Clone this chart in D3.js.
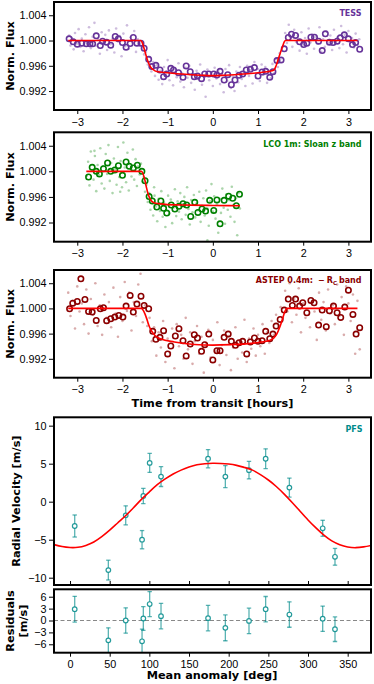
<!DOCTYPE html>
<html>
<head>
<meta charset="utf-8">
<script src="https://cdn.jsdelivr.net/npm/d3@7"></script>
<style>
  body { margin: 0; background: #fff; }
  svg { display: block; font-family: "DejaVu Sans", sans-serif; }
  .tick text { font-size: 10.8px; fill: #000; }
  .tick line { stroke: #000; stroke-width: 1; }
  .lab { font-size: 11.3px; font-weight: bold; }
  .tag { font-size: 8px; font-weight: bold; }
</style>
</head>
<body>
<div id="chart"></div>
<script>
// ---- data ----

// light curve ticks
var timeTicks = [-3, -2, -1, 0, 1, 2, 3];
var fluxTicks = [0.992, 0.996, 1.000, 1.004];

// TESS binned points
var tessBinT = [-3.18, -3.09, -3.00, -2.90, -2.80, -2.72, -2.66, -2.58, -2.49, -2.44, -2.35, -2.26, -2.16, -2.09, -2.00, -1.92, -1.83, -1.76, -1.68, -1.59, -1.52, -1.42, -1.35, -1.26, -1.17, -1.09, -1.02, -0.93, -0.87, -0.76, -0.66, -0.59, -0.50, -0.41, -0.34, -0.25, -0.18, -0.09, 0.02, 0.09, 0.16, 0.25, 0.33, 0.41, 0.49, 0.58, 0.66, 0.74, 0.83, 0.92, 1.00, 1.09, 1.17, 1.26, 1.33, 1.42, 1.51, 1.58, 1.67, 1.74, 1.83, 1.92, 2.01, 2.08, 2.17, 2.25, 2.34, 2.42, 2.49, 2.58, 2.66, 2.75, 2.82, 2.91, 3.00, 3.09, 3.16, 3.25];
var tessBinF = [1.00027, 0.99979, 0.99942, 0.99958, 0.99947, 0.99947, 0.99947, 1.00074, 0.99920, 0.99989, 0.99974, 0.99926, 1.00064, 1.00027, 0.99968, 0.99894, 0.99952, 1.00048, 0.99958, 0.99958, 0.99878, 0.99703, 0.99587, 0.99608, 0.99534, 0.99428, 0.99470, 0.99560, 0.99534, 0.99491, 0.99417, 0.99597, 0.99507, 0.99428, 0.99438, 0.99396, 0.99470, 0.99470, 0.99470, 0.99454, 0.99512, 0.99375, 0.99459, 0.99300, 0.99375, 0.99449, 0.99470, 0.99534, 0.99544, 0.99571, 0.99438, 0.99502, 0.99512, 0.99417, 0.99507, 0.99682, 0.99693, 0.99868, 1.00048, 1.00101, 1.00080, 0.99979, 0.99936, 0.99958, 1.00053, 1.00053, 0.99989, 0.99841, 1.00106, 0.99974, 0.99968, 0.99989, 1.00042, 1.00090, 1.00027, 0.99936, 0.99968, 0.99862];
// TESS unbinned points [time, flux]
var tessRaw = [
  [-3.18,1.0008],[-3.15,0.9992],[-3.12,1.0004],[-3.08,0.9986],[-3.05,1.0012],[-3.01,0.9995],[-2.97,1.0018],[-2.93,0.9990],[-2.90,1.0003],[-2.86,0.9983],
  [-2.82,1.0010],[-2.78,0.9996],[-2.74,1.0021],[-2.70,0.9988],[-2.66,1.0006],[-2.62,1.0028],[-2.58,0.9992],[-2.54,1.0001],[-2.50,0.9979],[-2.46,1.0013],
  [-2.42,0.9997],[-2.38,1.0009],[-2.34,0.9985],[-2.30,1.0016],[-2.26,0.9994],[-2.22,1.0003],[-2.18,0.9981],[-2.14,1.0019],[-2.10,0.9999],[-2.06,1.0007],
  [-2.02,0.9975],[-1.98,1.0011],[-1.94,0.9991],[-1.90,1.0024],[-1.86,0.9987],[-1.82,1.0005],[-1.78,0.9996],[-1.74,1.0015],[-1.70,0.9982],[-1.66,1.0002],
  [-1.62,0.9993],[-1.56,0.9989],[-1.52,0.9978],[-1.48,0.9982],[-1.44,0.9962],[-1.40,0.9974],[-1.36,0.9951],[-1.32,0.9966],[-1.28,0.9944],[-1.24,0.9961],
  [-1.20,0.9938],[-1.16,0.9952],[-1.12,0.9931],[-1.08,0.9958],[-1.04,0.9946],[-1.00,0.9969],[-0.96,0.9937],[-0.92,0.9950],[-0.88,0.9929],[-0.84,0.9955],
  [-0.80,0.9942],[-0.76,0.9964],[-0.72,0.9935],[-0.68,0.9948],[-0.64,0.9926],[-0.60,0.9957],[-0.56,0.9941],[-0.52,0.9960],[-0.48,0.9933],[-0.44,0.9946],
  [-0.40,0.9922],[-0.36,0.9952],[-0.32,0.9939],[-0.28,0.9962],[-0.24,0.9930],[-0.20,0.9945],[-0.16,0.9911],[-0.12,0.9954],[-0.08,0.9937],[-0.04,0.9949],
  [0.00,0.9928],[0.04,0.9957],[0.08,0.9940],[0.12,0.9952],[0.16,0.9931],[0.20,0.9947],[0.24,0.9918],[0.28,0.9955],[0.32,0.9936],[0.36,0.9961],
  [0.40,0.9925],[0.44,0.9943],[0.48,0.9920],[0.52,0.9951],[0.56,0.9934],[0.60,0.9958],[0.64,0.9939],[0.68,0.9949],[0.72,0.9928],[0.76,0.9960],
  [0.80,0.9944],[0.84,0.9953],[0.88,0.9932],[0.92,0.9966],[0.96,0.9941],[1.00,0.9955],[1.04,0.9936],[1.08,0.9962],[1.12,0.9946],[1.16,0.9958],
  [1.20,0.9933],[1.24,0.9952],[1.28,0.9940],[1.32,0.9963],[1.36,0.9948],[1.40,0.9971],[1.44,0.9958],[1.48,0.9980],[1.52,0.9972],[1.56,0.9991],
  [1.60,1.0012],[1.64,0.9996],[1.68,1.0025],[1.72,1.0004],[1.76,0.9990],[1.80,1.0017],[1.84,0.9998],[1.88,1.0008],[1.92,0.9984],[1.96,1.0013],
  [2.00,0.9993],[2.04,1.0004],[2.08,0.9979],[2.12,1.0019],[2.16,0.9997],[2.20,1.0010],[2.24,0.9987],[2.28,1.0006],[2.32,0.9995],[2.36,1.0021],
  [2.40,0.9982],[2.44,1.0002],[2.48,0.9990],[2.52,1.0014],[2.56,0.9996],[2.60,1.0008],[2.64,0.9985],[2.68,1.0017],[2.72,0.9999],[2.76,1.0005],
  [2.80,0.9988],[2.84,1.0023],[2.88,0.9994],[2.92,1.0009],[2.96,0.9981],[3.00,1.0015],[3.04,0.9997],[3.08,1.0004],[3.12,0.9989],[3.16,1.0011],
  [3.20,0.9993],[3.24,1.0002]
];
var tessModelT = [-3.2, -1.6, -1.57, -1.54, -1.5, -1.46, -1.42, -1.38, -1.34, -1.28, -1.2, -1.0, -0.6, -0.2, 0, 0.2, 0.6, 1.0, 1.2, 1.3, 1.36, 1.4, 1.45, 1.5, 1.55, 1.58, 1.61, 3.2];
var tessModelF = [1, 1, 0.9998, 0.9992, 0.9982, 0.9972, 0.9964, 0.9958, 0.9955, 0.9952, 0.99505, 0.9949, 0.99465, 0.99448, 0.99445, 0.99448, 0.99465, 0.9949, 0.99505, 0.9952, 0.9954, 0.996, 0.9971, 0.9982, 0.9992, 0.9998, 1, 1];

// LCO binned points
var lcoBinT = [-2.75, -2.67, -2.58, -2.51, -2.42, -2.33, -2.26, -2.17, -2.09, -2.00, -1.92, -1.85, -1.76, -1.67, -1.57, -1.50, -1.41, -1.34, -1.24, -1.15, -1.09, -1.02, -0.92, -0.84, -0.75, -0.66, -0.58, -0.49, -0.40, -0.33, -0.24, -0.16, -0.07, 0.02, 0.09, 0.16, 0.25, 0.35, 0.44, 0.52, 0.59];
var lcoBinF = [0.99911, 1.00063, 1.00000, 0.99958, 1.00042, 1.00132, 1.00000, 1.00021, 1.00089, 0.99937, 1.00147, 1.00079, 1.00053, 1.00095, 1.00000, 0.99853, 0.99605, 0.99537, 0.99442, 0.99537, 0.99421, 0.99347, 0.99474, 0.99411, 0.99453, 0.99495, 0.99474, 0.99295, 0.99516, 0.99358, 0.99411, 0.99379, 0.99547, 0.99389, 0.99553, 0.99179, 0.99547, 0.99611, 0.99579, 0.99463, 0.99642];
var lcoRaw = [
  [-2.79,0.9993],[-2.76,1.0015],[-2.73,0.9978],[-2.70,1.0031],[-2.67,1.0002],[-2.64,0.9987],[-2.61,1.0024],[-2.58,0.9969],[-2.55,1.0010],[-2.52,0.9994],
  [-2.49,1.0036],[-2.46,0.9981],[-2.43,1.0008],[-2.40,0.9973],[-2.37,1.0027],[-2.34,0.9996],[-2.31,1.0041],[-2.28,0.9985],[-2.25,1.0013],[-2.22,0.9966],
  [-2.19,1.0020],[-2.16,1.0003],[-2.13,0.9979],[-2.10,1.0038],[-2.07,0.9991],[-2.04,1.0016],[-2.01,0.9975],[-1.98,1.0045],[-1.95,1.0006],[-1.92,0.9983],
  [-1.89,1.0029],[-1.86,0.9970],[-1.83,1.0011],[-1.80,0.9992],[-1.77,1.0034],[-1.74,0.9987],[-1.71,1.0019],[-1.68,0.9977],[-1.65,1.0008],[-1.62,0.9995],
  [-1.59,1.0012],[-1.56,0.9984],[-1.53,0.9991],[-1.50,0.9968],[-1.47,0.9979],[-1.44,0.9952],[-1.41,0.9966],[-1.38,0.9940],[-1.35,0.9958],[-1.32,0.9931],
  [-1.29,0.9962],[-1.26,0.9945],[-1.23,0.9922],[-1.20,0.9957],[-1.17,0.9938],[-1.14,0.9969],[-1.11,0.9929],[-1.08,0.9951],[-1.05,0.9913],[-1.02,0.9947],
  [-0.99,0.9962],[-0.96,0.9934],[-0.93,0.9956],[-0.90,0.9919],[-0.87,0.9943],[-0.84,0.9972],[-0.81,0.9930],[-0.78,0.9953],[-0.75,0.9937],[-0.72,0.9966],
  [-0.69,0.9925],[-0.66,0.9949],[-0.63,0.9960],[-0.60,0.9932],[-0.57,0.9975],[-0.54,0.9941],[-0.51,0.9917],[-0.48,0.9955],[-0.45,0.9936],[-0.42,0.9963],
  [-0.39,0.9928],[-0.36,0.9950],[-0.33,0.9939],[-0.30,0.9968],[-0.27,0.9921],[-0.24,0.9946],[-0.21,0.9958],[-0.18,0.9931],[-0.15,0.9970],[-0.12,0.9942],
  [-0.09,0.9915],[-0.06,0.9953],[-0.03,0.9980],[0.00,0.9937],[0.03,0.9961],[0.06,0.9926],[0.09,0.9948],[0.12,0.9904],[0.15,0.9957],[0.18,0.9935],
  [0.21,0.9973],[0.24,0.9943],[0.27,0.9918],[0.30,0.9964],[0.33,0.9940],[0.36,0.9955],[0.39,0.9929],[0.42,0.9976],[0.45,0.9947],[0.48,0.9921],
  [0.51,0.9958],[0.54,0.9900],[0.57,0.9966],[0.60,0.9942],[-0.12,0.9892],[-2.05,0.9968],[-2.62,1.0032],[-1.30,0.9975]
];
var lcoModelT = [-2.8, -1.58, -1.55, -1.51, -1.47, -1.43, -1.39, -1.35, -1.3, -1.2, -1.0, -0.5, 0, 0.6];
var lcoModelF = [1, 1, 0.9997, 0.9988, 0.9975, 0.9964, 0.9957, 0.9953, 0.9951, 0.99495, 0.9948, 0.99472, 0.99466, 0.99463];

// ASTEP binned points
var astepBinT = [-3.17, -3.10, -3.00, -2.92, -2.83, -2.75, -2.67, -2.58, -2.49, -2.42, -2.35, -2.26, -2.17, -2.08, -1.99, -1.92, -1.83, -1.76, -1.68, -1.59, -1.52, -1.42, -1.33, -1.26, -1.17, -1.09, -1.00, -0.93, -0.83, -0.75, -0.66, -0.59, -0.50, -0.41, -0.34, -0.25, -0.18, -0.09, 0.00, 0.09, 0.16, 0.25, 0.34, 0.41, 0.50, 0.58, 0.66, 0.75, 0.83, 0.92, 1.00, 1.09, 1.17, 1.26, 1.33, 1.40, 1.49, 1.58, 1.67, 1.76, 1.83, 1.92, 1.99, 2.08, 2.17, 2.24, 2.34, 2.42, 2.51, 2.58, 2.67, 2.75, 2.83, 2.92, 3.00, 3.10, 3.17, 3.25];
var astepBinF = [0.99995, 1.00084, 1.00111, 1.00470, 1.00143, 0.99952, 0.99942, 0.99810, 0.99995, 1.00011, 0.99805, 0.99836, 0.99863, 0.99889, 0.99863, 1.00037, 1.00206, 0.99942, 1.00069, 1.00195, 1.00048, 0.99995, 0.99636, 0.99509, 0.99541, 0.99646, 0.99277, 0.99403, 0.99562, 0.99678, 0.99488, 0.99245, 0.99435, 0.99583, 0.99530, 0.99319, 0.99424, 0.99593, 0.99182, 0.99329, 0.99329, 0.99541, 0.99593, 0.99477, 0.99414, 0.99456, 0.99477, 0.99277, 0.99467, 0.99530, 0.99477, 0.99488, 0.99636, 0.99520, 0.99593, 0.99720, 0.99826, 0.99974, 1.00148, 1.00048, 1.00148, 1.00037, 1.00090, 0.99931, 1.00127, 1.00090, 0.99736, 0.99974, 0.99710, 0.99963, 1.00037, 0.99931, 0.99857, 1.00021, 1.00290, 0.99905, 0.99593, 0.99694];
var astepRaw = [
  [-3.20,1.0025],[-3.15,0.9988],[-3.10,1.0012],[-3.05,0.9968],[-3.00,1.0035],[-2.95,0.9995],[-2.90,1.0008],[-2.85,0.9975],[-2.80,1.0030],[-2.75,0.9960],
  [-2.70,1.0015],[-2.65,0.9990],[-2.60,1.0040],[-2.55,0.9972],[-2.50,1.0005],[-2.45,0.9958],[-2.40,1.0022],[-2.35,0.9985],[-2.30,1.0010],[-2.25,0.9970],
  [-2.20,1.0033],[-2.15,0.9992],[-2.10,0.9955],[-2.05,1.0018],[-2.00,0.9980],[-1.95,1.0042],[-1.90,0.9996],[-1.85,1.0025],[-1.80,0.9965],[-1.75,1.0010],
  [-1.70,0.9988],[-1.65,1.0038],[-1.60,1.0055],[-1.55,0.9978],[-1.50,1.0005],[-1.45,0.9972],[-1.40,0.9985],[-1.35,0.9948],[-1.30,0.9970],[-1.25,0.9925],
  [-1.20,0.9962],[-1.15,0.9938],[-1.10,0.9980],[-1.05,0.9915],[-1.00,0.9952],[-0.95,0.9930],[-0.90,0.9968],[-0.85,0.9905],[-0.80,0.9975],[-0.75,0.9940],
  [-0.70,0.9958],[-0.65,0.9920],[-0.60,0.9985],[-0.55,0.9935],[-0.50,0.9962],[-0.45,0.9912],[-0.40,0.9948],[-0.35,0.9972],[-0.30,0.9928],[-0.25,0.9955],
  [-0.20,0.9898],[-0.15,0.9945],[-0.10,0.9966],[-0.05,0.9922],[0.00,0.9950],[0.05,0.9932],[0.10,0.9978],[0.15,0.9910],[0.20,0.9942],[0.25,0.9965],
  [0.30,0.9926],[0.35,0.9956],[0.40,0.9902],[0.45,0.9938],[0.50,0.9970],[0.55,0.9920],[0.60,0.9948],[0.65,0.9930],[0.70,0.9982],[0.75,0.9915],
  [0.80,0.9952],[0.85,0.9936],[0.90,0.9968],[0.95,0.9925],[1.00,0.9958],[1.05,0.9940],[1.10,0.9975],[1.15,0.9928],[1.20,0.9962],[1.25,0.9945],
  [1.30,0.9980],[1.35,0.9958],[1.40,0.9990],[1.45,0.9972],[1.50,1.0002],[1.55,0.9985],[1.60,1.0028],[1.65,0.9995],[1.70,1.0040],[1.75,0.9978],
  [1.80,1.0015],[1.85,0.9990],[1.90,1.0032],[1.95,0.9962],[2.00,1.0008],[2.05,0.9985],[2.10,1.0045],[2.15,0.9970],[2.20,1.0012],[2.25,0.9995],
  [2.30,0.9950],[2.35,1.0025],[2.40,0.9982],[2.45,1.0010],[2.50,0.9965],[2.55,1.0030],[2.60,0.9992],[2.65,1.0005],[2.70,0.9975],[2.75,1.0038],
  [2.80,0.9988],[2.85,1.0018],[2.90,0.9958],[2.95,1.0035],[3.00,1.0008],[3.05,0.9980],[3.10,1.0022],[3.15,0.9928],[3.20,1.0012],[3.25,0.9935]
];
var astepModelT = [-3.2, -1.58, -1.54, -1.5, -1.46, -1.42, -1.38, -1.32, -1.25, -1.15, -0.85, -0.4, 0, 0.4, 0.85, 1.15, 1.25, 1.35, 1.42, 1.48, 1.54, 1.6, 1.64, 3.2];
var astepModelF = [1, 1, 0.9997, 0.9991, 0.9983, 0.9974, 0.9967, 0.99605, 0.9955, 0.99515, 0.99468, 0.99428, 0.99418, 0.99425, 0.99445, 0.99475, 0.9949, 0.9953, 0.996, 0.997, 0.9983, 0.9996, 1, 1];

// PFS radial velocities
var rvPhase = [5.9, 48.3, 70.2, 90.8, 92.4, 100.4, 114.7, 174.0, 195.8, 225.6, 246.6, 276.5, 318.5, 334.0];
var rvValue = [-3.2, -9.0, -1.8, -5.0, 0.75, 5.1, 3.3, 5.65, 3.3, 4.15, 5.65, 1.85, -3.5, -7.25];
var rvError = [1.45, 1.3, 1.25, 1.2, 1.0, 1.25, 1.3, 1.2, 1.45, 1.15, 1.3, 1.25, 1.05, 1.1];
var residValue = [2.85, -5.0, 0.0, -5.25, 0.5, 4.15, 1.1, 0.6, -1.85, -0.1, 2.85, 1.5, 0.45, -2.2];
var residError = [3.25, 3.15, 3.2, 3.1, 3.0, 3.15, 3.2, 3.2, 3.25, 3.2, 3.2, 3.2, 3.2, 3.1];
var rvModelM = [-20, -10, 0, 10, 20, 30, 40, 50, 60, 70, 80, 90, 100, 110, 120, 130, 140, 150, 160, 170, 180, 190, 200, 210, 220, 230, 240, 250, 260, 270, 280, 290, 300, 310, 320, 330, 340, 350, 360, 370, 380];
var rvModelV = [-5.65, -5.9, -6.03, -6.0, -5.75, -5.3, -4.6, -3.75, -2.8, -1.85, -0.8, 0.3, 1.3, 2.25, 3.0, 3.65, 4.15, 4.55, 4.85, 5.0, 5.05, 5.03, 4.95, 4.78, 4.5, 4.15, 3.55, 2.85, 2.0, 1.0, -0.1, -1.25, -2.4, -3.45, -4.4, -5.15, -5.65, -5.95, -6.05, -5.95, -5.75];
var phaseTicks = [0, 50, 100, 150, 200, 250, 300, 350];
var rvTicks = [-10, -5, 0, 5, 10];
var residTicks = [-6, -3, 0, 3, 6];

// ---- layout ----
var svgWidth = 374;
var svgHeight = 684;
var plotLeft = 54;
var plotRight = 371;

var svg = d3.select("#chart")
  .append("svg")
  .attr("width", svgWidth)
  .attr("height", svgHeight);

function addClip(id, top, bottom) {
  svg.append("clipPath").attr("id", id)
    .append("rect")
    .attr("x", plotLeft).attr("y", top)
    .attr("width", plotRight - plotLeft).attr("height", bottom - top);
}

function addFrame(top, bottom) {
  svg.append("rect")
    .attr("x", plotLeft).attr("y", top)
    .attr("width", plotRight - plotLeft).attr("height", bottom - top)
    .attr("fill", "none")
    .attr("stroke", "#000")
    .attr("stroke-width", 2);
}

function styleAxis(g) {
  g.select(".domain").remove();
}

// light curve panels
function lightCurve(opt) {
  var x = d3.scaleLinear().domain([-3.515, 3.5]).range([plotLeft, plotRight]);
  var y = d3.scaleLinear().domain([0.989, 1.0061]).range([opt.bottom, opt.top]);

  addClip(opt.id, opt.top, opt.bottom);
  var g = svg.append("g").attr("clip-path", "url(#" + opt.id + ")");

  g.selectAll(".raw")
    .data(opt.raw)
    .enter().append("circle")
    .attr("cx", d => x(d[0]))
    .attr("cy", d => y(d[1]))
    .attr("r", 1.3)
    .attr("fill", opt.color)
    .attr("opacity", 0.33);

  g.selectAll(".bin")
    .data(opt.binT)
    .enter().append("circle")
    .attr("cx", d => x(d))
    .attr("cy", (d, i) => y(opt.binF[i]))
    .attr("r", 2.7)
    .attr("fill", "none")
    .attr("stroke", opt.color)
    .attr("stroke-width", 1.6);

  var line = d3.line()
    .x(d => x(d[0]))
    .y(d => y(d[1]))
    .curve(d3.curveMonotoneX);

  g.append("path")
    .datum(d3.zip(opt.modelT, opt.modelF))
    .attr("d", line)
    .attr("fill", "none")
    .attr("stroke", "red")
    .attr("stroke-width", 1.6);

  svg.append("g")
    .attr("transform", `translate(0, ${opt.bottom})`)
    .call(d3.axisBottom(x).tickValues(timeTicks).tickSize(4).tickPadding(4).tickFormat(d3.format("d")))
    .call(styleAxis);

  svg.append("g")
    .attr("transform", `translate(${plotLeft}, 0)`)
    .call(d3.axisLeft(y).tickValues(fluxTicks).tickSize(5).tickPadding(2.5).tickFormat(d3.format(".3f")))
    .call(styleAxis);

  addFrame(opt.top, opt.bottom);

  svg.append("text")
    .attr("class", "lab")
    .attr("transform", `translate(13.5, ${(opt.top + opt.bottom) / 2}) rotate(-90)`)
    .attr("text-anchor", "middle")
    .text("Norm. Flux");

  var tag = svg.append("text")
    .attr("class", "tag")
    .attr("x", 361.5)
    .attr("y", opt.tagY)
    .attr("text-anchor", "end")
    .attr("fill", opt.color);
  opt.tag(tag);
}

lightCurve({
  id: "tess", top: 2, bottom: 110, color: "#663399",
  raw: tessRaw, binT: tessBinT, binF: tessBinF, modelT: tessModelT, modelF: tessModelF,
  tagY: 15.5, tag: t => t.text("TESS")
});

lightCurve({
  id: "lco", top: 132.3, bottom: 241.7, color: "green",
  raw: lcoRaw, binT: lcoBinT, binF: lcoBinF, modelT: lcoModelT, modelF: lcoModelF,
  tagY: 146.5, tag: t => t.text("LCO 1m: Sloan z band")
});

lightCurve({
  id: "astep", top: 270, bottom: 377.7, color: "darkred",
  raw: astepRaw, binT: astepBinT, binF: astepBinF, modelT: astepModelT, modelF: astepModelF,
  tagY: 283,
  tag: function(t) {
    t.append("tspan").text("ASTEP 0.4m:");
    t.append("tspan").attr("dx", 5).text("\u2212");
    t.append("tspan").attr("dx", 2).text("R");
    t.append("tspan").attr("dy", 2).attr("font-size", "5.5px").text("C");
    t.append("tspan").attr("dy", -2).attr("dx", 2).text("band");
  }
});

svg.append("text")
  .attr("class", "lab")
  .attr("x", 212.5)
  .attr("y", 407)
  .attr("text-anchor", "middle")
  .text("Time from transit [hours]");

// radial velocity panel
var rvTop = 417.3, rvBottom = 585;
var resTop = 589.3, resBottom = 652.7;
var teal = "#008b8b";

var xPhase = d3.scaleLinear().domain([-20.2, 379.4]).range([plotLeft, plotRight]);
var yRV = d3.scaleLinear().domain([-10.96, 11.1]).range([rvBottom, rvTop]);
var yRes = d3.scaleLinear().domain([-8.12, 7.87]).range([resBottom, resTop]);

var rvData = rvPhase.map((m, i) => ({ m: m, v: rvValue[i], e: rvError[i], r: residValue[i], re: residError[i] }));

function errorBars(g, yScale, valKey, errKey) {
  var bars = g.selectAll(".eb")
    .data(rvData)
    .enter().append("g")
    .attr("stroke", teal)
    .attr("stroke-opacity", 0.65)
    .attr("stroke-width", 1.3);
  bars.append("line")
    .attr("x1", d => xPhase(d.m)).attr("x2", d => xPhase(d.m))
    .attr("y1", d => yScale(d[valKey] - d[errKey])).attr("y2", d => yScale(d[valKey] + d[errKey]));
  bars.append("line")
    .attr("x1", d => xPhase(d.m) - 2.2).attr("x2", d => xPhase(d.m) + 2.2)
    .attr("y1", d => yScale(d[valKey] - d[errKey])).attr("y2", d => yScale(d[valKey] - d[errKey]));
  bars.append("line")
    .attr("x1", d => xPhase(d.m) - 2.2).attr("x2", d => xPhase(d.m) + 2.2)
    .attr("y1", d => yScale(d[valKey] + d[errKey])).attr("y2", d => yScale(d[valKey] + d[errKey]));
  g.selectAll(".pt")
    .data(rvData)
    .enter().append("circle")
    .attr("cx", d => xPhase(d.m))
    .attr("cy", d => yScale(d[valKey]))
    .attr("r", 2.3)
    .attr("fill", "white")
    .attr("stroke", teal)
    .attr("stroke-opacity", 0.85)
    .attr("stroke-width", 1.2);
}

addClip("rvclip", rvTop, rvBottom);
var rvG = svg.append("g").attr("clip-path", "url(#rvclip)");

var rvLine = d3.line()
  .x(d => xPhase(d[0]))
  .y(d => yRV(d[1]))
  .curve(d3.curveNatural);

errorBars(rvG, yRV, "v", "e");

rvG.append("path")
  .datum(d3.zip(rvModelM, rvModelV))
  .attr("d", rvLine)
  .attr("fill", "none")
  .attr("stroke", "red")
  .attr("stroke-width", 1.6);

svg.append("g")
  .attr("transform", `translate(0, ${rvBottom})`)
  .call(d3.axisTop(xPhase).tickValues(phaseTicks).tickSize(4).tickFormat(""))
  .call(styleAxis);

svg.append("g")
  .attr("transform", `translate(${plotLeft}, 0)`)
  .call(d3.axisLeft(yRV).tickValues(rvTicks).tickSize(5).tickPadding(2.5).tickFormat(d3.format("d")))
  .call(styleAxis);

addFrame(rvTop, rvBottom);

svg.append("text")
  .attr("class", "lab")
  .attr("transform", `translate(20, ${(rvTop + rvBottom) / 2}) rotate(-90)`)
  .attr("text-anchor", "middle")
  .text("Radial Velocity [m/s]");

svg.append("text")
  .attr("class", "tag")
  .attr("x", 362.5)
  .attr("y", 432)
  .attr("text-anchor", "end")
  .attr("fill", teal)
  .text("PFS");

// residuals panel
addClip("resclip", resTop, resBottom);
var resG = svg.append("g").attr("clip-path", "url(#resclip)");

resG.append("line")
  .attr("x1", plotLeft).attr("x2", plotRight)
  .attr("y1", yRes(0)).attr("y2", yRes(0))
  .attr("stroke", "#888")
  .attr("stroke-width", 1.1)
  .attr("stroke-dasharray", "4,2.5");

errorBars(resG, yRes, "r", "re");

svg.append("g")
  .attr("transform", `translate(0, ${resBottom})`)
  .call(d3.axisBottom(xPhase).tickValues(phaseTicks).tickSize(4).tickPadding(4).tickFormat(d3.format("d")))
  .call(styleAxis);

svg.append("g")
  .attr("transform", `translate(${plotLeft}, 0)`)
  .call(d3.axisLeft(yRes).tickValues(residTicks).tickSize(5).tickPadding(2.5).tickFormat(d3.format("d")))
  .call(styleAxis);

addFrame(resTop, resBottom);

var resLabel = svg.append("text")
  .attr("class", "lab")
  .attr("transform", `translate(0, ${(resTop + resBottom) / 2}) rotate(-90)`)
  .attr("text-anchor", "middle");
resLabel.append("tspan").attr("x", 0).attr("y", 14).text("Residuals");
resLabel.append("tspan").attr("x", 0).attr("y", 27).text("[m/s]");

svg.append("text")
  .attr("class", "lab")
  .attr("x", 212)
  .attr("y", 679)
  .attr("text-anchor", "middle")
  .text("Mean anomaly [deg]");
</script>
</body>
</html>
